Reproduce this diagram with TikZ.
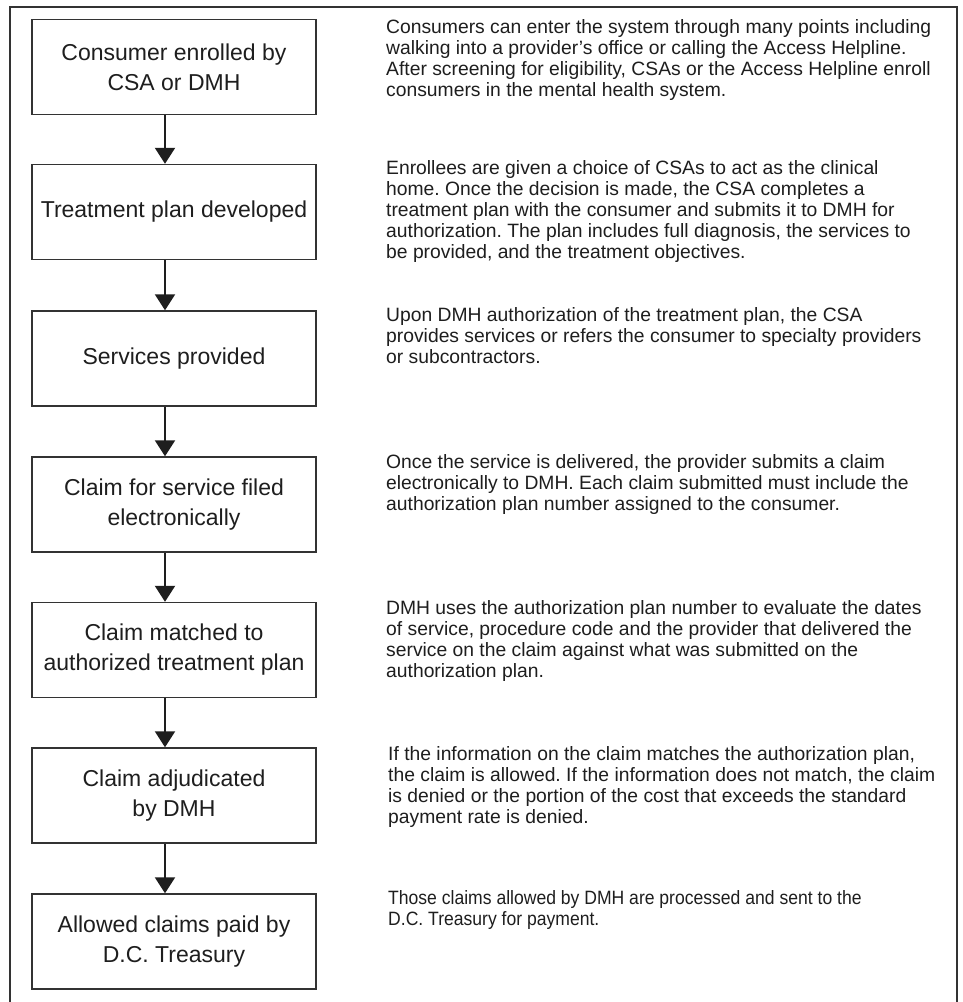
\documentclass[tikz,border=0pt]{standalone}
\usepackage{fontspec}
\setmainfont{Liberation Sans}
\newfontfamily\narrowsans{Liberation Sans}[FakeStretch=0.91]
\usetikzlibrary{arrows.meta}
\definecolor{ink}{HTML}{1E1E1E}
\definecolor{edge}{HTML}{333333}
\tikzset{
  stepbox/.style={draw=edge, line width=1.4pt, minimum width=284pt, minimum height=95pt,
    inner sep=0pt, align=center, text=ink, font={\fontsize{23}{30}\selectfont}},
  desc/.style={anchor=north west, inner sep=0pt, align=left, text=ink,
    font={\fontsize{19.3}{21}\selectfont}},
  flow/.style={draw=ink, line width=2pt, -{Triangle[width=20pt,length=16pt]}},
  frame/.style={draw=edge, line width=1.4pt}
}
\begin{document}
\frenchspacing
\begin{tikzpicture}[x=1pt, y=-1pt]
\useasboundingbox (0,0) rectangle (962,1002);
\fill[white] (0,0) rectangle (962,1002);
\draw[frame] (10,1002) -- (10,7) -- (957,7) -- (957,1002);

\coordinate (ax) at (165,0);

\node[stepbox] (b1) at (174,67) {Consumer enrolled by\\CSA or DMH};
\node[stepbox] (b2) at (174,212) {Treatment plan developed};
\node[stepbox] (b3) at (174,358.5) {Services provided};
\node[stepbox] (b4) at (174,504.5) {Claim for service filed\\electronically};
\node[stepbox] (b5) at (174,650) {Claim matched to\\authorized treatment plan};
\node[stepbox] (b6) at (174,795.5) {Claim adjudicated\\by DMH};
\node[stepbox] (b7) at (174,941.5) {Allowed claims paid by\\D.C. Treasury};

\draw[flow] (b1.south -| ax) -- (b2.north -| ax);
\draw[flow] (b2.south -| ax) -- (b3.north -| ax);
\draw[flow] (b3.south -| ax) -- (b4.north -| ax);
\draw[flow] (b4.south -| ax) -- (b5.north -| ax);
\draw[flow] (b5.south -| ax) -- (b6.north -| ax);
\draw[flow] (b6.south -| ax) -- (b7.north -| ax);

\node[desc] (d1) at (386,19.5) {Consumers can enter the system through many points including\\walking into a provider’s office or calling the Access Helpline.\\After screening for eligibility, CSAs or the Access Helpline enroll\\consumers in the mental health system.};
\node[desc] (d2) at (386,160) {Enrollees are given a choice of CSAs to act as the clinical\\home. Once the decision is made, the CSA completes a\\treatment plan with the consumer and submits it to DMH for\\authorization. The plan includes full diagnosis, the services to\\be provided, and the treatment objectives.};
\node[desc] (d3) at (386,307) {Upon DMH authorization of the treatment plan, the CSA\\provides services or refers the consumer to specialty providers\\or subcontractors.};
\node[desc] (d4) at (386,454) {Once the service is delivered, the provider submits a claim\\electronically to DMH. Each claim submitted must include the\\authorization plan number assigned to the consumer.};
\node[desc] (d5) at (386,600) {DMH uses the authorization plan number to evaluate the dates\\of service, procedure code and the provider that delivered the\\service on the claim against what was submitted on the\\authorization plan.};
\node[desc] (d6) at (388,746) {If the information on the claim matches the authorization plan,\\the claim is allowed. If the information does not match, the claim\\is denied or the portion of the cost that exceeds the standard\\payment rate is denied.};
\node[desc, font={\narrowsans\fontsize{19.3}{21}\selectfont}] (d7) at (388,890) {Those claims allowed by DMH are processed and sent to the\\D.C. Treasury for payment.};
\end{tikzpicture}
\end{document}
